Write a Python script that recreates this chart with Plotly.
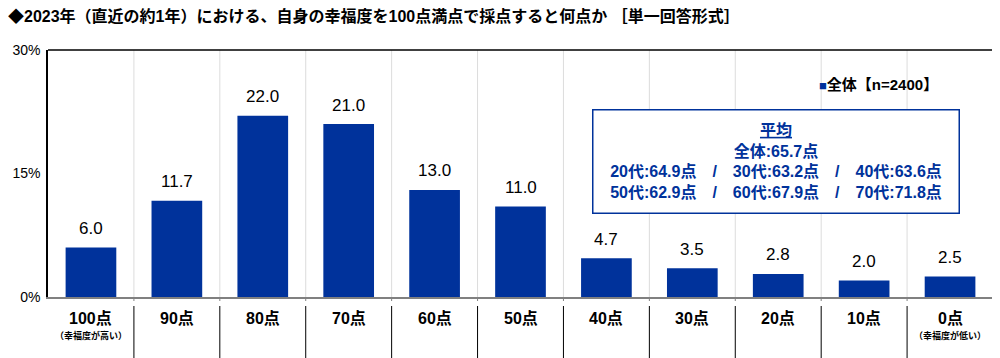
import plotly.graph_objects as go

categories = ["100点", "90点", "80点", "70点", "60点", "50点", "40点", "30点", "20点", "10点", "0点"]
sublabels = ["（幸福度が高い）", "", "", "", "", "", "", "", "", "", "（幸福度が低い）"]
values = [6.0, 11.7, 22.0, 21.0, 13.0, 11.0, 4.7, 3.5, 2.8, 2.0, 2.5]
series_name = "全体【n=2400】"
title_text = "◆2023年（直近の約1年）における、自身の幸福度を100点満点で採点すると何点か ［単一回答形式］"
avg_lines = ["<u>平均</u>", "全体:65.7点",
             "20代:64.9点　/　30代:63.2点　/　40代:63.6点",
             "50代:62.9点　/　60代:67.9点　/　70代:71.8点"]

BLUE = "#00329B"
FONT = "Liberation Sans, Noto Sans CJK JP"

# the page body has an 8px margin; size the figure so the plot lands where the reference has it
OFF = 8
PL, PT, PR, PB = 48, 50, 993, 297  # plot area in screen pixels
W, H = 1000 - OFF, 358 - OFF
PW, PH = PR - PL, PB - PT


def px_x(sx):
    return (sx - PL) / PW


def px_y(sy):
    return (PB - sy) / PH


x_idx = list(range(len(categories)))
fig = go.Figure()
fig.add_trace(go.Bar(
    x=x_idx, y=values, name=series_name,
    marker=dict(color=BLUE, line=dict(width=0)),
    width=0.59, showlegend=False, hoverinfo="x+y",
))

shapes = []
n = len(categories)
for i in range(n - 1):
    b = i + 0.5
    shapes.append(dict(type="line", xref="x", yref="paper", x0=b, x1=b, y0=0, y1=1,
                       line=dict(color="#DCDCDC", width=1), layer="below"))
    shapes.append(dict(type="line", xref="x", yref="paper", x0=b, x1=b, y0=0, y1=px_y(301),
                       line=dict(color="#808080", width=1)))
    shapes.append(dict(type="line", xref="x", yref="paper", x0=b, x1=b, y0=px_y(306), y1=px_y(360),
                       line=dict(color="#000000", width=1)))
shapes.append(dict(type="line", xref="paper", yref="paper", x0=0, x1=1, y0=1, y1=1,
                   line=dict(color="#000000", width=1.5)))

annotations = []
for i, v in enumerate(values):
    annotations.append(dict(x=i, y=v, xref="x", yref="y", text=f"{v:.1f}",
                            showarrow=False, yanchor="middle", yshift=19,
                            font=dict(size=17, color="#000000", family=FONT)))
for i, (c, s) in enumerate(zip(categories, sublabels)):
    annotations.append(dict(x=i, y=px_y(318), xref="x", yref="paper", text=f"<b>{c}</b>",
                            showarrow=False, yanchor="middle",
                            font=dict(size=16, color="#000000", family=FONT)))
    if s:
        annotations.append(dict(x=i, y=px_y(335), xref="x", yref="paper", text=f"<b>{s}</b>",
                                showarrow=False, yanchor="middle",
                                font=dict(size=9, color="#000000", family=FONT)))
annotations.append(dict(x=px_x(776), y=px_y(161), xref="paper", yref="paper",
                        xanchor="center", yanchor="middle",
                        text="<br>".join(f"<b>{l}</b>" for l in avg_lines),
                        showarrow=False, align="center", valign="middle",
                        font=dict(size=16, color=BLUE, family=FONT),
                        bordercolor=BLUE, borderwidth=1.5, borderpad=5,
                        bgcolor="#FFFFFF", width=355, height=92))
annotations.append(dict(x=px_x(817), y=px_y(84), xref="paper", yref="paper",
                        xanchor="left", yanchor="middle", showarrow=False,
                        text=f"<span style='color:{BLUE};font-size:13px'>■</span><b>{series_name}</b>",
                        font=dict(size=15, color="#000000", family=FONT)))

fig.update_layout(
    width=W, height=H,
    margin=dict(l=PL - OFF, r=1000 - PR, t=PT - OFF, b=358 - PB),
    paper_bgcolor="#FFFFFF", plot_bgcolor="#FFFFFF",
    title=dict(text=f"<b>{title_text}</b>", x=0, xref="container", xanchor="left",
               y=1 - 8 / H, yref="container", yanchor="middle",
               font=dict(size=16, color="#000000", family=FONT)),
    showlegend=False,
    xaxis=dict(range=[-0.5, n - 0.5], showticklabels=False, showgrid=False,
               showline=True, linecolor="#808080", linewidth=1.5, zeroline=False,
               ticks="", fixedrange=True, automargin=False),
    yaxis=dict(range=[0, 30], dtick=15, ticksuffix="%", showgrid=False, zeroline=False,
               showline=True, linecolor="#000000", linewidth=1.5, mirror=True,
               tickfont=dict(size=14, color="#000000", family=FONT), ticks="",
               ticklabelstandoff=3, automargin=False),
    shapes=shapes, annotations=annotations,
)
fig.write_html("out.html")
